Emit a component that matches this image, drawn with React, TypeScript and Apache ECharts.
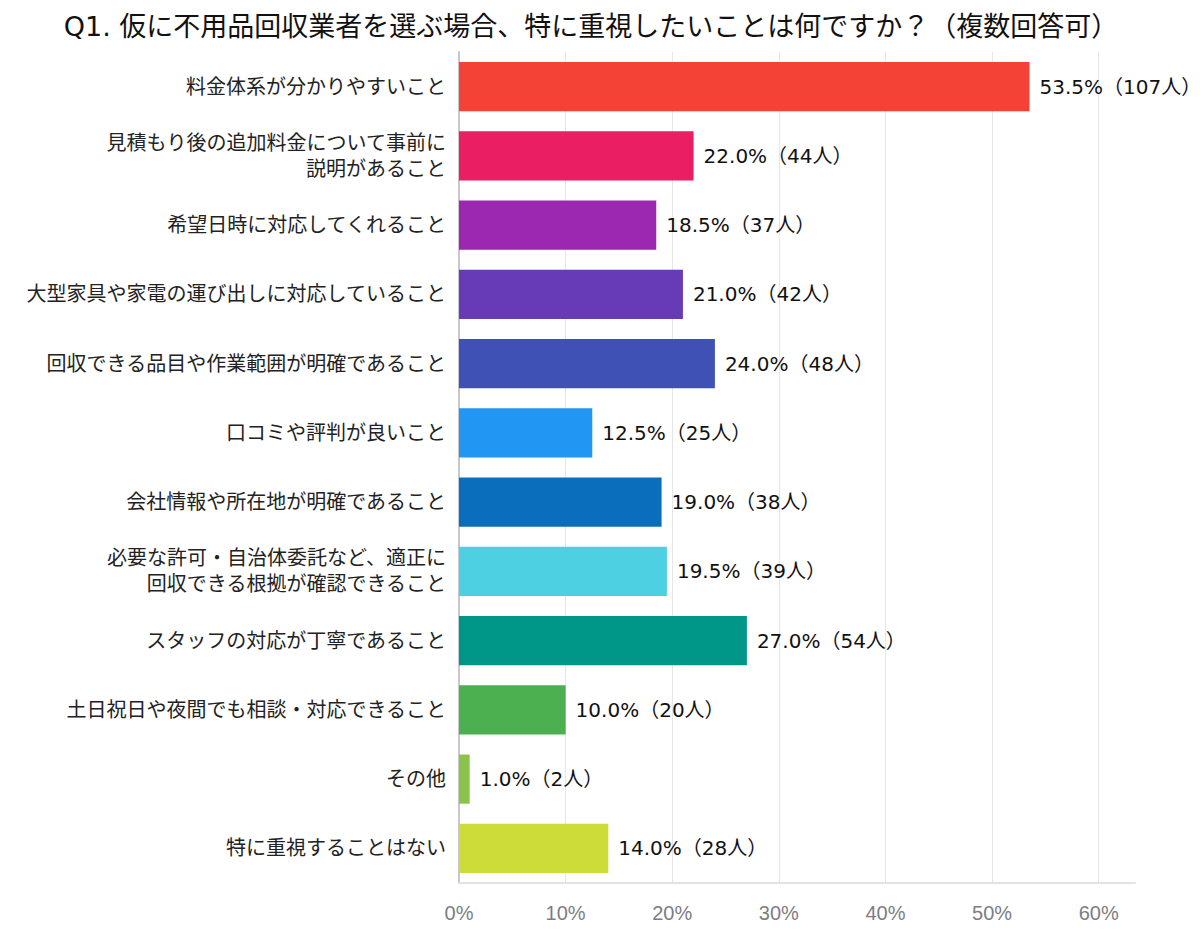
import React, { useEffect, useRef } from "react";
import * as echarts from "echarts";

const titleText = "Q1. 仮に不用品回収業者を選ぶ場合、特に重視したいことは何ですか？（複数回答可）";

const categories = [
  "料金体系が分かりやすいこと",
  "見積もり後の追加料金について事前に\n説明があること",
  "希望日時に対応してくれること",
  "大型家具や家電の運び出しに対応していること",
  "回収できる品目や作業範囲が明確であること",
  "口コミや評判が良いこと",
  "会社情報や所在地が明確であること",
  "必要な許可・自治体委託など、適正に\n回収できる根拠が確認できること",
  "スタッフの対応が丁寧であること",
  "土日祝日や夜間でも相談・対応できること",
  "その他",
  "特に重視することはない",
];

const percents = [53.5, 22.0, 18.5, 21.0, 24.0, 12.5, 19.0, 19.5, 27.0, 10.0, 1.0, 14.0];
const counts = [107, 44, 37, 42, 48, 25, 38, 39, 54, 20, 2, 28];

const barColors = [
  "#F44336",
  "#E91E63",
  "#9C27B0",
  "#673AB7",
  "#3F51B5",
  "#2196F3",
  "#0A6EBD",
  "#4DD0E1",
  "#009688",
  "#4CAF50",
  "#8BC34A",
  "#CDDC39",
];

const FONT = "'DejaVu Sans', 'Noto Sans CJK JP', sans-serif";

export default function App() {
  const ref = useRef<HTMLDivElement>(null);

  useEffect(() => {
    if (!ref.current) return;
    const chart = echarts.init(ref.current, undefined, { renderer: "svg" });
    chart.setOption({
      animation: false,
      backgroundColor: "#ffffff",
      title: {
        text: titleText,
        left: 586,
        textAlign: "center",
        top: 8,
        textStyle: {
          fontFamily: FONT,
          fontSize: 27,
          fontWeight: "normal",
          color: "#111",
        },
      },
      grid: { left: 459, right: 65, top: 52, bottom: 57, containLabel: false },
      xAxis: {
        type: "value",
        min: 0,
        max: 63.4,
        interval: 10,
        axisLine: { show: true, lineStyle: { color: "#e2e2e6", width: 2 } },
        axisTick: { show: false },
        splitLine: { show: true, showMaxLine: false, lineStyle: { color: "#e6e6ea", width: 1 } },
        axisLabel: {
          showMaxLabel: false,
          formatter: "{value}%",
          fontFamily: "'Liberation Sans', Arial, sans-serif",
          fontSize: 20,
          color: "#7d7d82",
          margin: 20,
        },
      },
      yAxis: {
        type: "category",
        inverse: true,
        data: categories,
        axisLine: { show: true, lineStyle: { color: "#c8c8cc", width: 2 } },
        axisTick: { show: false },
        axisLabel: {
          fontFamily: FONT,
          fontSize: 20,
          color: "#222",
          lineHeight: 26,
          margin: 13,
          align: "right",
        },
      },
      series: [
        {
          type: "bar",
          barWidth: "71%",
          data: percents.map((v, i) => ({ value: v, itemStyle: { color: barColors[i] } })),
          label: {
            show: true,
            position: "right",
            distance: 10,
            fontFamily: FONT,
            fontSize: 20,
            color: "#111",
            formatter: (p: any) => `${percents[p.dataIndex].toFixed(1)}%（${counts[p.dataIndex]}人）`,
          },
        },
      ],
    });
    return () => chart.dispose();
  }, []);

  return (
    <div
      ref={ref}
      style={{ position: "fixed", left: 0, top: 0, width: 1200, height: 940 }}
    />
  );
}
